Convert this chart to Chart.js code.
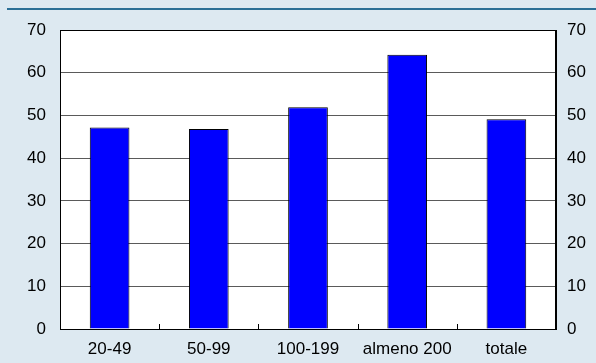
<!DOCTYPE html>
<html>
<head>
<meta charset="utf-8">
<script src="https://cdn.jsdelivr.net/npm/chart.js@4/dist/chart.umd.min.js"></script>
<style>
    body { margin: 0; background: #dde9f1; }
    #wrap { width: 596px; height: 363px; }
</style>
</head>
<body>
<div id="wrap"><canvas id="myChart" width="596" height="363"></canvas></div>
<script>
// dati
const categorie = ['20-49', '50-99', '100-199', 'almeno 200', 'totale'];
const valori = [47.2, 46.8, 51.9, 64.2, 49.1];
const yMin = 0;
const yMax = 70;
const yStep = 10;

const font = { family: 'Liberation Sans, Arial, Helvetica, sans-serif', size: 17 };

// sfondo, linea in alto e tacche sull'asse x
const decorazioni = {
    id: 'decorazioni',
    beforeDraw(chart) {
        let ctx = chart.ctx;
        ctx.save();
        ctx.fillStyle = '#dde9f1';
        ctx.fillRect(0, 0, chart.width, chart.height);
        ctx.fillStyle = '#2b6f96';
        ctx.fillRect(7, 8, chart.width - 7, 2);
        let a = chart.chartArea;
        ctx.fillStyle = '#ffffff';
        ctx.fillRect(a.left, a.top, a.right - a.left, a.bottom - a.top);
        ctx.restore();
    },
    afterDatasetsDraw(chart) {
        let ctx = chart.ctx;
        let a = chart.chartArea;
        let x = chart.scales.x;
        ctx.save();
        ctx.strokeStyle = '#000000';
        ctx.lineWidth = 1;
        for (let i = 1; i < categorie.length; i++) {
            let px = Math.round((x.getPixelForTick(i - 1) + x.getPixelForTick(i)) / 2) + 0.5;
            ctx.beginPath();
            ctx.moveTo(px, a.bottom);
            ctx.lineTo(px, a.bottom - 5);
            ctx.stroke();
        }
        // bordo area del grafico
        ctx.strokeRect(a.left + 0.5, a.top + 0.5, a.right - a.left - 1, a.bottom - a.top);
        ctx.restore();
    }
};

let ctx = document.getElementById('myChart').getContext('2d');
new Chart(ctx, {
    type: 'bar',
    data: {
        labels: categorie,
        datasets: [{
            data: valori,
            backgroundColor: '#0000ff',
            borderColor: '#000000',
            borderWidth: 1,
            barPercentage: 0.4,
            categoryPercentage: 1
        }]
    },
    options: {
        responsive: false,
        animation: false,
        layout: { padding: { top: 30, left: 0, right: 0, bottom: 0 } },
        plugins: {
            legend: { display: false },
            tooltip: { enabled: false }
        },
        scales: {
            x: {
                grid: { display: false },
                border: { display: true, color: '#000000', width: 1 },
                ticks: { color: '#000000', font: font, padding: 2, maxRotation: 0 },
                afterFit(scale) { scale.height = 34; }
            },
            y: {
                position: 'left',
                min: yMin,
                max: yMax,
                grid: { color: '#5a5a5a', lineWidth: 1, drawTicks: false },
                border: { display: true, color: '#000000' },
                ticks: { stepSize: yStep, color: '#000000', font: font, padding: 14 },
                afterFit(scale) { scale.width = 60; }
            },
            y2: {
                position: 'right',
                min: yMin,
                max: yMax,
                grid: { display: false, drawTicks: false },
                border: { display: true, color: '#000000' },
                ticks: { stepSize: yStep, color: '#000000', font: font, padding: 11 },
                afterFit(scale) { scale.width = 40; }
            }
        }
    },
    plugins: [decorazioni]
});
</script>
</body>
</html>
